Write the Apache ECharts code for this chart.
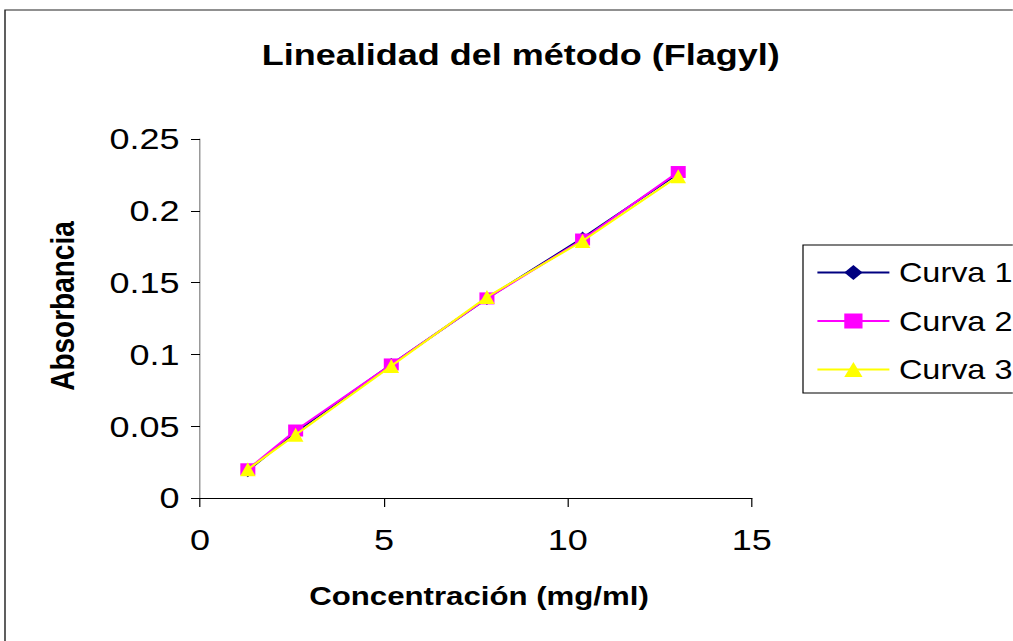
<!DOCTYPE html>
<html>
<head>
<meta charset="utf-8">
<script src="https://cdn.jsdelivr.net/npm/echarts@6/dist/echarts.min.js"></script>
<style>
html,body{margin:0;padding:0;background:#fff;overflow:hidden;width:1013px;height:641px;}
#c{width:844.17px;height:641px;transform:scaleX(1.2);transform-origin:0 0;}
</style>
</head>
<body>
<div id="c"></div>
<script>
const concentrations = [1.3, 2.6, 5.2, 7.8, 10.4, 13.0];
const curva1 = [0.019, 0.046, 0.093, 0.139, 0.181, 0.226];
const curva2 = [0.020, 0.047, 0.093, 0.139, 0.180, 0.227];
const curva3 = [0.020, 0.044, 0.092, 0.140, 0.179, 0.224];
const seriesNames = ['Curva 1', 'Curva 2', 'Curva 3'];
const titleText = 'Linealidad del método (Flagyl)';
const xName = 'Concentración (mg/ml)';
const yName = 'Absorbancia';

const FONT = '"Liberation Sans", Arial, sans-serif';
const S = 1.2; // horizontal stretch applied to the whole chart
const chart = echarts.init(document.getElementById('c'), null, {renderer: 'svg'});

function pairs(ys) { return concentrations.map((x, i) => [x, ys[i]]); }

const styles = [
  {color: '#000080', symbol: 'diamond', size: [11, 13]},
  {color: '#FF00FF', symbol: 'rect', size: [12.5, 12]},
  {color: '#FFFF00', symbol: 'triangle', size: [13, 14]}
];
const data = [curva1, curva2, curva3];

chart.setOption({
  animation: false,
  backgroundColor: '#fff',
  textStyle: {fontFamily: FONT},
  grid: {left: 200 / S, right: 844.17 - 752 / S, top: 139, bottom: 143},
  xAxis: {
    type: 'value', min: 0, max: 15, interval: 5,
    axisLine: {show: true, onZero: false, lineStyle: {color: '#000', width: 1}},
    axisTick: {show: true, inside: false, length: 9, lineStyle: {color: '#000'}},
    splitLine: {show: false},
    axisLabel: {fontSize: 30, color: '#000', margin: 27, fontFamily: FONT}
  },
  yAxis: {
    type: 'value', min: 0, max: 0.25, interval: 0.05,
    axisLine: {show: true, lineStyle: {color: '#808080', width: 1}},
    axisTick: {show: true, length: 9 / S, lineStyle: {color: '#000'}},
    splitLine: {show: false},
    axisLabel: {fontSize: 30, color: '#000', margin: 17, fontFamily: FONT}
  },
  legend: {
    orient: 'vertical',
    left: 803 / S, top: 245,
    padding: [14, 60, 10, 11],
    borderColor: '#000', borderWidth: 1,
    itemWidth: 72 / S, itemHeight: 19, itemGap: 21.5,
    data: seriesNames,
    textStyle: {fontSize: 27, color: '#000', lineHeight: 25, fontFamily: FONT, padding: [0, 0, 0, 3]}
  },
  graphic: [
    {type: 'rect', shape: {x: 5 / S, y: 10, width: 1200, height: 800}, style: {fill: 'none', stroke: '#222', lineWidth: 1.2}, z: -1, silent: true},
    {type: 'text', x: 434, y: 55, style: {text: titleText, font: 'bold 30px ' + FONT, fill: '#000', textAlign: 'center', textVerticalAlign: 'middle'}},
    {type: 'text', x: 479 / S, y: 596, style: {text: xName, font: 'bold 26px ' + FONT, fill: '#000', textAlign: 'center', textVerticalAlign: 'middle'}},
    {type: 'text', x: 63 / S, y: 306, rotation: Math.PI / 2, style: {text: yName, font: 'bold 28px ' + FONT, fill: '#000', textAlign: 'center', textVerticalAlign: 'middle'}}
  ],
  series: data.map((d, i) => ({
    name: seriesNames[i],
    type: 'line',
    data: pairs(d),
    symbol: styles[i].symbol,
    symbolSize: styles[i].size,
    showAllSymbol: true,
    itemStyle: {color: styles[i].color, borderWidth: 0},
    lineStyle: {color: styles[i].color, width: 2},
    z: 2 + i
  }))
});
</script>
</body>
</html>
